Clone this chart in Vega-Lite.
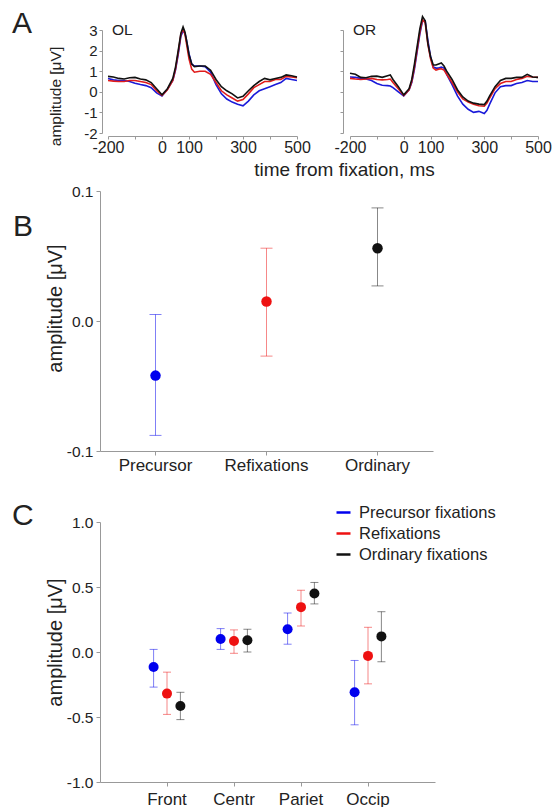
{
 "$schema": "https://vega.github.io/schema/vega-lite/v6.json",
 "padding": {"left": 12, "top": 8, "right": 0, "bottom": 0},
 "background": "white",
 "config": {
  "font": "Liberation Sans",
  "view": {"stroke": null},
  "axis": {"domainColor": "#999999", "tickColor": "#999999", "labelColor": "#222222", "titleColor": "#222222", "grid": false, "titleFontWeight": "normal", "domainWidth": 1, "tickWidth": 1, "labelFont": "Liberation Sans", "titleFont": "Liberation Sans"},
  "title": {"fontWeight": "normal", "color": "#222222", "offset": 0, "font": "Liberation Sans"},
  "legend": {"labelFont": "Liberation Sans"}
 },
 "datasets": {
  "erp": [
   {"panel":"OL","group":"Precursor","time":-200,"amp":0.65},{"panel":"OL","group":"Precursor","time":-180,"amp":0.58},{"panel":"OL","group":"Precursor","time":-160,"amp":0.55},{"panel":"OL","group":"Precursor","time":-140,"amp":0.55},{"panel":"OL","group":"Precursor","time":-120,"amp":0.5},{"panel":"OL","group":"Precursor","time":-100,"amp":0.42},{"panel":"OL","group":"Precursor","time":-80,"amp":0.35},{"panel":"OL","group":"Precursor","time":-60,"amp":0.3},{"panel":"OL","group":"Precursor","time":-40,"amp":0.2},{"panel":"OL","group":"Precursor","time":-20,"amp":-0.05},{"panel":"OL","group":"Precursor","time":0,"amp":-0.2},{"panel":"OL","group":"Precursor","time":20,"amp":0.12},{"panel":"OL","group":"Precursor","time":40,"amp":0.55},{"panel":"OL","group":"Precursor","time":50,"amp":1.05},{"panel":"OL","group":"Precursor","time":60,"amp":1.8},{"panel":"OL","group":"Precursor","time":70,"amp":2.7},{"panel":"OL","group":"Precursor","time":78,"amp":2.95},{"panel":"OL","group":"Precursor","time":85,"amp":2.85},{"panel":"OL","group":"Precursor","time":90,"amp":2.55},{"panel":"OL","group":"Precursor","time":100,"amp":1.85},{"panel":"OL","group":"Precursor","time":110,"amp":1.35},{"panel":"OL","group":"Precursor","time":120,"amp":1.25},{"panel":"OL","group":"Precursor","time":140,"amp":1.25},{"panel":"OL","group":"Precursor","time":160,"amp":1.22},{"panel":"OL","group":"Precursor","time":180,"amp":0.95},{"panel":"OL","group":"Precursor","time":200,"amp":0.35},{"panel":"OL","group":"Precursor","time":220,"amp":-0.1},{"panel":"OL","group":"Precursor","time":240,"amp":-0.35},{"panel":"OL","group":"Precursor","time":260,"amp":-0.5},{"panel":"OL","group":"Precursor","time":280,"amp":-0.6},{"panel":"OL","group":"Precursor","time":300,"amp":-0.68},{"panel":"OL","group":"Precursor","time":320,"amp":-0.45},{"panel":"OL","group":"Precursor","time":340,"amp":-0.15},{"panel":"OL","group":"Precursor","time":360,"amp":0.05},{"panel":"OL","group":"Precursor","time":380,"amp":0.15},{"panel":"OL","group":"Precursor","time":400,"amp":0.25},{"panel":"OL","group":"Precursor","time":420,"amp":0.35},{"panel":"OL","group":"Precursor","time":440,"amp":0.45},{"panel":"OL","group":"Precursor","time":460,"amp":0.65},{"panel":"OL","group":"Precursor","time":480,"amp":0.6},{"panel":"OL","group":"Precursor","time":500,"amp":0.55},
   {"panel":"OL","group":"Refixation","time":-200,"amp":0.55},{"panel":"OL","group":"Refixation","time":-180,"amp":0.52},{"panel":"OL","group":"Refixation","time":-160,"amp":0.5},{"panel":"OL","group":"Refixation","time":-140,"amp":0.5},{"panel":"OL","group":"Refixation","time":-120,"amp":0.55},{"panel":"OL","group":"Refixation","time":-100,"amp":0.55},{"panel":"OL","group":"Refixation","time":-80,"amp":0.5},{"panel":"OL","group":"Refixation","time":-60,"amp":0.45},{"panel":"OL","group":"Refixation","time":-40,"amp":0.35},{"panel":"OL","group":"Refixation","time":-20,"amp":0.05},{"panel":"OL","group":"Refixation","time":0,"amp":-0.18},{"panel":"OL","group":"Refixation","time":20,"amp":0.1},{"panel":"OL","group":"Refixation","time":40,"amp":0.55},{"panel":"OL","group":"Refixation","time":50,"amp":1.1},{"panel":"OL","group":"Refixation","time":60,"amp":1.9},{"panel":"OL","group":"Refixation","time":70,"amp":2.8},{"panel":"OL","group":"Refixation","time":78,"amp":3.05},{"panel":"OL","group":"Refixation","time":85,"amp":2.8},{"panel":"OL","group":"Refixation","time":90,"amp":2.4},{"panel":"OL","group":"Refixation","time":100,"amp":1.6},{"panel":"OL","group":"Refixation","time":110,"amp":1.1},{"panel":"OL","group":"Refixation","time":120,"amp":0.95},{"panel":"OL","group":"Refixation","time":140,"amp":1.0},{"panel":"OL","group":"Refixation","time":160,"amp":1.0},{"panel":"OL","group":"Refixation","time":180,"amp":0.85},{"panel":"OL","group":"Refixation","time":200,"amp":0.45},{"panel":"OL","group":"Refixation","time":220,"amp":0.05},{"panel":"OL","group":"Refixation","time":240,"amp":-0.15},{"panel":"OL","group":"Refixation","time":260,"amp":-0.3},{"panel":"OL","group":"Refixation","time":280,"amp":-0.45},{"panel":"OL","group":"Refixation","time":300,"amp":-0.38},{"panel":"OL","group":"Refixation","time":320,"amp":-0.1},{"panel":"OL","group":"Refixation","time":340,"amp":0.2},{"panel":"OL","group":"Refixation","time":360,"amp":0.35},{"panel":"OL","group":"Refixation","time":380,"amp":0.5},{"panel":"OL","group":"Refixation","time":400,"amp":0.5},{"panel":"OL","group":"Refixation","time":420,"amp":0.6},{"panel":"OL","group":"Refixation","time":440,"amp":0.6},{"panel":"OL","group":"Refixation","time":460,"amp":0.75},{"panel":"OL","group":"Refixation","time":480,"amp":0.72},{"panel":"OL","group":"Refixation","time":500,"amp":0.68},
   {"panel":"OL","group":"Ordinary","time":-200,"amp":0.75},{"panel":"OL","group":"Ordinary","time":-180,"amp":0.72},{"panel":"OL","group":"Ordinary","time":-160,"amp":0.65},{"panel":"OL","group":"Ordinary","time":-140,"amp":0.62},{"panel":"OL","group":"Ordinary","time":-120,"amp":0.68},{"panel":"OL","group":"Ordinary","time":-100,"amp":0.7},{"panel":"OL","group":"Ordinary","time":-80,"amp":0.62},{"panel":"OL","group":"Ordinary","time":-60,"amp":0.58},{"panel":"OL","group":"Ordinary","time":-40,"amp":0.45},{"panel":"OL","group":"Ordinary","time":-20,"amp":0.15},{"panel":"OL","group":"Ordinary","time":0,"amp":-0.15},{"panel":"OL","group":"Ordinary","time":20,"amp":0.15},{"panel":"OL","group":"Ordinary","time":40,"amp":0.65},{"panel":"OL","group":"Ordinary","time":50,"amp":1.2},{"panel":"OL","group":"Ordinary","time":60,"amp":2.0},{"panel":"OL","group":"Ordinary","time":70,"amp":2.85},{"panel":"OL","group":"Ordinary","time":78,"amp":3.15},{"panel":"OL","group":"Ordinary","time":85,"amp":2.9},{"panel":"OL","group":"Ordinary","time":90,"amp":2.55},{"panel":"OL","group":"Ordinary","time":100,"amp":1.8},{"panel":"OL","group":"Ordinary","time":110,"amp":1.35},{"panel":"OL","group":"Ordinary","time":120,"amp":1.22},{"panel":"OL","group":"Ordinary","time":140,"amp":1.25},{"panel":"OL","group":"Ordinary","time":160,"amp":1.25},{"panel":"OL","group":"Ordinary","time":180,"amp":1.05},{"panel":"OL","group":"Ordinary","time":200,"amp":0.6},{"panel":"OL","group":"Ordinary","time":220,"amp":0.25},{"panel":"OL","group":"Ordinary","time":240,"amp":0.05},{"panel":"OL","group":"Ordinary","time":260,"amp":-0.1},{"panel":"OL","group":"Ordinary","time":280,"amp":-0.3},{"panel":"OL","group":"Ordinary","time":300,"amp":-0.22},{"panel":"OL","group":"Ordinary","time":320,"amp":0.05},{"panel":"OL","group":"Ordinary","time":340,"amp":0.3},{"panel":"OL","group":"Ordinary","time":360,"amp":0.5},{"panel":"OL","group":"Ordinary","time":380,"amp":0.65},{"panel":"OL","group":"Ordinary","time":400,"amp":0.58},{"panel":"OL","group":"Ordinary","time":420,"amp":0.65},{"panel":"OL","group":"Ordinary","time":440,"amp":0.7},{"panel":"OL","group":"Ordinary","time":460,"amp":0.82},{"panel":"OL","group":"Ordinary","time":480,"amp":0.78},{"panel":"OL","group":"Ordinary","time":500,"amp":0.72},
   {"panel":"OR","group":"Precursor","time":-200,"amp":0.72},{"panel":"OR","group":"Precursor","time":-180,"amp":0.7},{"panel":"OR","group":"Precursor","time":-160,"amp":0.65},{"panel":"OR","group":"Precursor","time":-140,"amp":0.62},{"panel":"OR","group":"Precursor","time":-120,"amp":0.55},{"panel":"OR","group":"Precursor","time":-100,"amp":0.4},{"panel":"OR","group":"Precursor","time":-80,"amp":0.32},{"panel":"OR","group":"Precursor","time":-60,"amp":0.3},{"panel":"OR","group":"Precursor","time":-50,"amp":0.28},{"panel":"OR","group":"Precursor","time":-40,"amp":0.2},{"panel":"OR","group":"Precursor","time":-20,"amp":0.0},{"panel":"OR","group":"Precursor","time":0,"amp":-0.2},{"panel":"OR","group":"Precursor","time":20,"amp":0.1},{"panel":"OR","group":"Precursor","time":30,"amp":0.45},{"panel":"OR","group":"Precursor","time":40,"amp":1.1},{"panel":"OR","group":"Precursor","time":50,"amp":1.95},{"panel":"OR","group":"Precursor","time":60,"amp":2.8},{"panel":"OR","group":"Precursor","time":70,"amp":3.45},{"panel":"OR","group":"Precursor","time":80,"amp":3.45},{"panel":"OR","group":"Precursor","time":90,"amp":2.5},{"panel":"OR","group":"Precursor","time":100,"amp":1.7},{"panel":"OR","group":"Precursor","time":110,"amp":1.2},{"panel":"OR","group":"Precursor","time":120,"amp":1.15},{"panel":"OR","group":"Precursor","time":130,"amp":1.15},{"panel":"OR","group":"Precursor","time":140,"amp":1.2},{"panel":"OR","group":"Precursor","time":150,"amp":1.15},{"panel":"OR","group":"Precursor","time":160,"amp":0.85},{"panel":"OR","group":"Precursor","time":180,"amp":0.35},{"panel":"OR","group":"Precursor","time":200,"amp":-0.2},{"panel":"OR","group":"Precursor","time":220,"amp":-0.6},{"panel":"OR","group":"Precursor","time":240,"amp":-0.85},{"panel":"OR","group":"Precursor","time":260,"amp":-1.0},{"panel":"OR","group":"Precursor","time":280,"amp":-0.95},{"panel":"OR","group":"Precursor","time":300,"amp":-1.05},{"panel":"OR","group":"Precursor","time":310,"amp":-0.9},{"panel":"OR","group":"Precursor","time":320,"amp":-0.6},{"panel":"OR","group":"Precursor","time":340,"amp":-0.05},{"panel":"OR","group":"Precursor","time":360,"amp":0.25},{"panel":"OR","group":"Precursor","time":380,"amp":0.3},{"panel":"OR","group":"Precursor","time":400,"amp":0.3},{"panel":"OR","group":"Precursor","time":420,"amp":0.4},{"panel":"OR","group":"Precursor","time":440,"amp":0.45},{"panel":"OR","group":"Precursor","time":460,"amp":0.55},{"panel":"OR","group":"Precursor","time":480,"amp":0.5},{"panel":"OR","group":"Precursor","time":500,"amp":0.5},
   {"panel":"OR","group":"Refixation","time":-200,"amp":0.65},{"panel":"OR","group":"Refixation","time":-180,"amp":0.62},{"panel":"OR","group":"Refixation","time":-160,"amp":0.6},{"panel":"OR","group":"Refixation","time":-140,"amp":0.62},{"panel":"OR","group":"Refixation","time":-120,"amp":0.65},{"panel":"OR","group":"Refixation","time":-100,"amp":0.6},{"panel":"OR","group":"Refixation","time":-80,"amp":0.58},{"panel":"OR","group":"Refixation","time":-60,"amp":0.6},{"panel":"OR","group":"Refixation","time":-50,"amp":0.62},{"panel":"OR","group":"Refixation","time":-40,"amp":0.45},{"panel":"OR","group":"Refixation","time":-20,"amp":0.15},{"panel":"OR","group":"Refixation","time":0,"amp":-0.18},{"panel":"OR","group":"Refixation","time":20,"amp":0.1},{"panel":"OR","group":"Refixation","time":30,"amp":0.5},{"panel":"OR","group":"Refixation","time":40,"amp":1.2},{"panel":"OR","group":"Refixation","time":50,"amp":2.05},{"panel":"OR","group":"Refixation","time":60,"amp":2.9},{"panel":"OR","group":"Refixation","time":70,"amp":3.5},{"panel":"OR","group":"Refixation","time":80,"amp":3.35},{"panel":"OR","group":"Refixation","time":90,"amp":2.3},{"panel":"OR","group":"Refixation","time":100,"amp":1.6},{"panel":"OR","group":"Refixation","time":110,"amp":1.15},{"panel":"OR","group":"Refixation","time":120,"amp":1.05},{"panel":"OR","group":"Refixation","time":130,"amp":1.1},{"panel":"OR","group":"Refixation","time":140,"amp":1.12},{"panel":"OR","group":"Refixation","time":150,"amp":1.05},{"panel":"OR","group":"Refixation","time":160,"amp":0.85},{"panel":"OR","group":"Refixation","time":180,"amp":0.45},{"panel":"OR","group":"Refixation","time":200,"amp":0.0},{"panel":"OR","group":"Refixation","time":220,"amp":-0.35},{"panel":"OR","group":"Refixation","time":240,"amp":-0.5},{"panel":"OR","group":"Refixation","time":260,"amp":-0.6},{"panel":"OR","group":"Refixation","time":280,"amp":-0.68},{"panel":"OR","group":"Refixation","time":300,"amp":-0.7},{"panel":"OR","group":"Refixation","time":310,"amp":-0.55},{"panel":"OR","group":"Refixation","time":320,"amp":-0.3},{"panel":"OR","group":"Refixation","time":340,"amp":0.15},{"panel":"OR","group":"Refixation","time":360,"amp":0.4},{"panel":"OR","group":"Refixation","time":380,"amp":0.5},{"panel":"OR","group":"Refixation","time":400,"amp":0.5},{"panel":"OR","group":"Refixation","time":420,"amp":0.6},{"panel":"OR","group":"Refixation","time":440,"amp":0.65},{"panel":"OR","group":"Refixation","time":460,"amp":0.75},{"panel":"OR","group":"Refixation","time":480,"amp":0.72},{"panel":"OR","group":"Refixation","time":500,"amp":0.7},
   {"panel":"OR","group":"Ordinary","time":-200,"amp":0.9},{"panel":"OR","group":"Ordinary","time":-180,"amp":0.85},{"panel":"OR","group":"Ordinary","time":-160,"amp":0.7},{"panel":"OR","group":"Ordinary","time":-140,"amp":0.68},{"panel":"OR","group":"Ordinary","time":-120,"amp":0.75},{"panel":"OR","group":"Ordinary","time":-100,"amp":0.76},{"panel":"OR","group":"Ordinary","time":-80,"amp":0.7},{"panel":"OR","group":"Ordinary","time":-60,"amp":0.78},{"panel":"OR","group":"Ordinary","time":-50,"amp":0.82},{"panel":"OR","group":"Ordinary","time":-40,"amp":0.6},{"panel":"OR","group":"Ordinary","time":-20,"amp":0.25},{"panel":"OR","group":"Ordinary","time":0,"amp":-0.15},{"panel":"OR","group":"Ordinary","time":20,"amp":0.15},{"panel":"OR","group":"Ordinary","time":30,"amp":0.6},{"panel":"OR","group":"Ordinary","time":40,"amp":1.35},{"panel":"OR","group":"Ordinary","time":50,"amp":2.2},{"panel":"OR","group":"Ordinary","time":60,"amp":3.05},{"panel":"OR","group":"Ordinary","time":70,"amp":3.65},{"panel":"OR","group":"Ordinary","time":80,"amp":3.45},{"panel":"OR","group":"Ordinary","time":90,"amp":2.35},{"panel":"OR","group":"Ordinary","time":100,"amp":1.7},{"panel":"OR","group":"Ordinary","time":110,"amp":1.3},{"panel":"OR","group":"Ordinary","time":120,"amp":1.3},{"panel":"OR","group":"Ordinary","time":130,"amp":1.35},{"panel":"OR","group":"Ordinary","time":140,"amp":1.4},{"panel":"OR","group":"Ordinary","time":150,"amp":1.25},{"panel":"OR","group":"Ordinary","time":160,"amp":1.0},{"panel":"OR","group":"Ordinary","time":180,"amp":0.6},{"panel":"OR","group":"Ordinary","time":200,"amp":0.1},{"panel":"OR","group":"Ordinary","time":220,"amp":-0.25},{"panel":"OR","group":"Ordinary","time":240,"amp":-0.45},{"panel":"OR","group":"Ordinary","time":260,"amp":-0.55},{"panel":"OR","group":"Ordinary","time":280,"amp":-0.6},{"panel":"OR","group":"Ordinary","time":300,"amp":-0.62},{"panel":"OR","group":"Ordinary","time":310,"amp":-0.45},{"panel":"OR","group":"Ordinary","time":320,"amp":-0.2},{"panel":"OR","group":"Ordinary","time":340,"amp":0.25},{"panel":"OR","group":"Ordinary","time":360,"amp":0.55},{"panel":"OR","group":"Ordinary","time":380,"amp":0.65},{"panel":"OR","group":"Ordinary","time":400,"amp":0.65},{"panel":"OR","group":"Ordinary","time":420,"amp":0.7},{"panel":"OR","group":"Ordinary","time":440,"amp":0.7},{"panel":"OR","group":"Ordinary","time":460,"amp":0.85},{"panel":"OR","group":"Ordinary","time":480,"amp":0.72},{"panel":"OR","group":"Ordinary","time":500,"amp":0.7}
  ],
  "overall": [
   {"cond":"Precursor","mean":-0.042,"lo":-0.088,"hi":0.005},
   {"cond":"Refixations","mean":0.015,"lo":-0.027,"hi":0.056},
   {"cond":"Ordinary","mean":0.056,"lo":0.027,"hi":0.087}
  ],
  "regions": [
   {"region":"Front","group":"Precursor fixations","mean":-0.115,"lo":-0.27,"hi":0.02},
   {"region":"Front","group":"Refixations","mean":-0.32,"lo":-0.48,"hi":-0.155},
   {"region":"Front","group":"Ordinary fixations","mean":-0.415,"lo":-0.52,"hi":-0.31},
   {"region":"Centr","group":"Precursor fixations","mean":0.1,"lo":0.02,"hi":0.18},
   {"region":"Centr","group":"Refixations","mean":0.085,"lo":-0.01,"hi":0.17},
   {"region":"Centr","group":"Ordinary fixations","mean":0.09,"lo":0.0,"hi":0.175},
   {"region":"Pariet","group":"Precursor fixations","mean":0.175,"lo":0.06,"hi":0.3},
   {"region":"Pariet","group":"Refixations","mean":0.345,"lo":0.2,"hi":0.475},
   {"region":"Pariet","group":"Ordinary fixations","mean":0.45,"lo":0.37,"hi":0.535},
   {"region":"Occip","group":"Precursor fixations","mean":-0.31,"lo":-0.56,"hi":-0.065},
   {"region":"Occip","group":"Refixations","mean":-0.03,"lo":-0.245,"hi":0.19},
   {"region":"Occip","group":"Ordinary fixations","mean":0.12,"lo":-0.075,"hi":0.31}
  ]
 },
 "bounds": "flush",
 "spacing": 250,
 "resolve": {"scale": {"color": "independent", "stroke": "independent"}, "legend": {"color": "independent", "stroke": "independent"}},
 "hconcat": [
  {
   "title": {"text": "A", "anchor": "start", "frame": "group", "fontSize": 30, "dx": -88, "dy": 44, "baseline": "alphabetic"},
   "bounds": "flush",
   "spacing": 58,
   "resolve": {"scale": {"color": "independent", "stroke": "independent"}, "legend": {"color": "independent", "stroke": "independent"}},
   "vconcat": [
    {
     "width": 197, "height": 103,
     "title": {"text": "OL", "anchor": "start", "frame": "group", "fontSize": 15.5, "dx": 12, "dy": 31, "baseline": "alphabetic"},
     "data": {"name": "erp"},
     "transform": [{"filter": "datum.panel === 'OL'"}],
     "mark": {"type": "line", "strokeWidth": 1.6},
     "encoding": {
      "x": {"field": "time", "type": "quantitative", "scale": {"domain": [-200, 500], "range": [8, 197], "nice": false, "zero": false},
            "axis": {"values": [-200,-100,0,100,200,300,400,500], "labelExpr": "indexof([-100,200,400], datum.value) >= 0 ? '' : '' + datum.value", "labelFontSize": 16, "labelFlush": false, "labelOverlap": false, "offset": 3, "tickSize": 3, "labelPadding": 0, "title": "time from fixation, ms", "titleFontSize": 19, "titleX": 244, "titleY": 33, "titleBaseline": "middle", "titleAlign": "center"}},
      "y": {"field": "amp", "type": "quantitative", "scale": {"domain": [-2, 3], "nice": false, "zero": false},
            "axis": {"values": [-2,-1,0,1,2,3], "labelExpr": "'' + datum.value", "labelFontSize": 15, "offset": -2, "tickSize": 3, "labelPadding": 2, "title": "amplitude [μV]", "titleFontSize": 15.5, "titleX": -47, "titleY": 66, "titleBaseline": "middle", "titleAlign": "center", "titleAngle": 270}},
      "color": {"field": "group", "type": "nominal", "scale": {"domain": ["Precursor","Refixation","Ordinary"], "range": ["#1a1ad9","#e01c1c","#111111"]}, "legend": null}
     }
    },
    {
     "bounds": "flush",
     "spacing": 71,
     "resolve": {"scale": {"color": "independent", "stroke": "independent"}, "legend": {"color": "independent", "stroke": "independent"}},
     "vconcat": [
      {
       "width": 333, "height": 260,
       "title": {"text": "B", "anchor": "start", "frame": "group", "fontSize": 30, "dx": -87, "dy": 86, "baseline": "alphabetic"},
       "data": {"name": "overall"},
       "encoding": {
        "x": {"field": "cond", "type": "nominal", "sort": ["Precursor","Refixations","Ordinary"], "scale": {"paddingInner": 0, "paddingOuter": 0},
              "axis": {"title": null, "labelAngle": 0, "labelFontSize": 17, "tickSize": 4, "labelPadding": 2}}
       },
       "layer": [
        {"mark": {"type": "rule", "strokeWidth": 1, "strokeOpacity": 0.5},
         "encoding": {
          "y": {"field": "lo", "type": "quantitative", "title": "amplitude [μV]", "scale": {"domain": [-0.1, 0.1], "nice": false, "zero": false},
                "axis": {"values": [-0.1, 0, 0.1], "labelExpr": "datum.value < 0 ? '-' + format(-datum.value, '.1f') : format(datum.value, '.1f')", "labelFontSize": 15.5, "tickSize": 4, "labelPadding": 3, "titleFontSize": 20, "titleX": -45, "titleY": 117, "titleBaseline": "middle", "titleAlign": "center", "titleAngle": 270}},
          "y2": {"field": "hi"},
          "stroke": {"field": "cond", "type": "nominal", "scale": {"domain": ["Precursor","Refixations","Ordinary"], "range": ["#0000ee","#ee1111","#111111"]}, "legend": null}
         }},
        {"mark": {"type": "tick", "size": 12, "thickness": 1, "opacity": 0.5},
         "encoding": {
          "y": {"field": "lo", "type": "quantitative", "title": "amplitude [μV]"},
          "color": {"field": "cond", "type": "nominal", "scale": {"domain": ["Precursor","Refixations","Ordinary"], "range": ["#0000ee","#ee1111","#111111"]}, "legend": null}
         }},
        {"mark": {"type": "tick", "size": 12, "thickness": 1, "opacity": 0.5},
         "encoding": {
          "y": {"field": "hi", "type": "quantitative", "title": "amplitude [μV]"},
          "color": {"field": "cond", "type": "nominal", "scale": {"domain": ["Precursor","Refixations","Ordinary"], "range": ["#0000ee","#ee1111","#111111"]}, "legend": null}
         }},
        {"mark": {"type": "point", "filled": true, "size": 110, "opacity": 1},
         "encoding": {
          "y": {"field": "mean", "type": "quantitative", "title": "amplitude [μV]"},
          "color": {"field": "cond", "type": "nominal", "scale": {"domain": ["Precursor","Refixations","Ordinary"], "range": ["#0000ee","#ee1111","#111111"]}, "legend": null}
         }}
       ]
      },
      {
       "width": 335, "height": 260,
       "title": {"text": "C", "anchor": "start", "frame": "group", "fontSize": 30, "dx": -88, "dy": 55, "baseline": "alphabetic"},
       "data": {"name": "regions"},
       "encoding": {
        "x": {"field": "region", "type": "nominal", "sort": ["Front","Centr","Pariet","Occip"], "scale": {"paddingInner": 0, "paddingOuter": 0.5},
              "axis": {"title": null, "labelAngle": 0, "labelFontSize": 17, "tickSize": 4, "labelPadding": 5}},
        "xOffset": {"field": "group", "type": "nominal", "sort": ["Precursor fixations","Refixations","Ordinary fixations"], "scale": {"paddingInner": 0, "paddingOuter": 1.63}}
       },
       "layer": [
        {"mark": {"type": "rule", "strokeWidth": 1, "strokeOpacity": 0.5},
         "encoding": {
          "y": {"field": "lo", "type": "quantitative", "title": "amplitude [μV]", "scale": {"domain": [-1, 1], "nice": false, "zero": false},
                "axis": {"values": [-1, -0.5, 0, 0.5, 1], "labelExpr": "datum.value < 0 ? '-' + format(-datum.value, '.1f') : format(datum.value, '.1f')", "labelFontSize": 15.5, "tickSize": 4, "labelPadding": 3, "titleFontSize": 20, "titleX": -45, "titleY": 120, "titleBaseline": "middle", "titleAlign": "center", "titleAngle": 270}},
          "y2": {"field": "hi"},
          "stroke": {"field": "group", "type": "nominal", "scale": {"domain": ["Precursor fixations","Refixations","Ordinary fixations"], "range": ["#0000ee","#ee1111","#111111"]},
                     "legend": {"orient": "none", "legendX": 235, "legendY": -18, "title": null, "symbolType": "stroke", "symbolSize": 196, "symbolStrokeWidth": 2.5, "labelFontSize": 16.5, "labelColor": "#222222", "labelOffset": 7, "rowPadding": 4, "symbolOpacity": 1,
                                "encode": {"symbols": {"update": {"strokeOpacity": {"value": 1}, "opacity": {"value": 1}}}}}}
         }},
        {"mark": {"type": "tick", "size": 8, "thickness": 1, "opacity": 0.5},
         "encoding": {
          "y": {"field": "lo", "type": "quantitative", "title": "amplitude [μV]"},
          "color": {"field": "group", "type": "nominal", "scale": {"domain": ["Ordinary fixations","Precursor fixations","Refixations"], "range": ["#111111","#0000ee","#ee1111"]}, "legend": null}
         }},
        {"mark": {"type": "tick", "size": 8, "thickness": 1, "opacity": 0.5},
         "encoding": {
          "y": {"field": "hi", "type": "quantitative", "title": "amplitude [μV]"},
          "color": {"field": "group", "type": "nominal", "scale": {"domain": ["Ordinary fixations","Precursor fixations","Refixations"], "range": ["#111111","#0000ee","#ee1111"]}, "legend": null}
         }},
        {"mark": {"type": "point", "filled": true, "size": 100, "opacity": 1},
         "encoding": {
          "y": {"field": "mean", "type": "quantitative", "title": "amplitude [μV]"},
          "color": {"field": "group", "type": "nominal", "scale": {"domain": ["Ordinary fixations","Precursor fixations","Refixations"], "range": ["#111111","#0000ee","#ee1111"]}, "legend": null}
         }}
       ]
      }
     ]
    }
   ]
  },
  {
   "width": 188, "height": 103,
   "title": {"text": "OR", "anchor": "start", "frame": "group", "fontSize": 15.5, "dx": 3, "dy": 41, "baseline": "alphabetic"},
   "data": {"name": "erp"},
   "transform": [{"filter": "datum.panel === 'OR'"}],
   "mark": {"type": "line", "strokeWidth": 1.6},
   "encoding": {
    "x": {"field": "time", "type": "quantitative", "scale": {"domain": [-200, 500], "nice": false, "zero": false},
          "axis": {"values": [-200,-100,0,100,200,300,400,500], "labelExpr": "indexof([-100,200,400], datum.value) >= 0 ? '' : '' + datum.value", "labelFontSize": 16, "labelFlush": false, "labelOverlap": false, "offset": 3, "tickSize": 3, "labelPadding": 0, "title": null}},
    "y": {"field": "amp", "type": "quantitative", "scale": {"domain": [-2, 3], "nice": false, "zero": false},
          "axis": {"values": [-2,-1,0,1,2,3], "labels": false, "offset": 7, "tickSize": 3, "title": null}},
    "color": {"field": "group", "type": "nominal", "scale": {"domain": ["Precursor","Refixation","Ordinary"], "range": ["#1a1ad9","#e01c1c","#111111"]}, "legend": null}
   }
  }
 ]
}
